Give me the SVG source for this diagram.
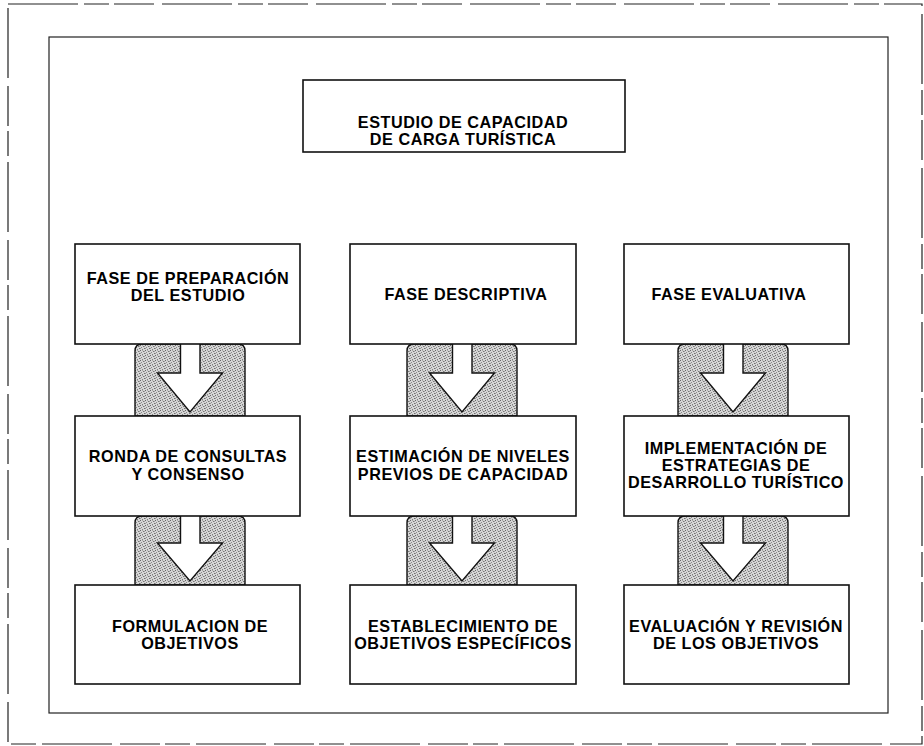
<svg xmlns="http://www.w3.org/2000/svg" width="924" height="746" viewBox="0 0 924 746">
<defs>
<pattern id="dots" width="5" height="5" patternUnits="userSpaceOnUse">
<rect width="5" height="5" fill="#d6d6d6"/>
<rect x="0" y="0" width="1" height="1" fill="#666"/>
<rect x="3" y="1" width="1" height="1" fill="#777"/>
<rect x="1" y="2" width="1" height="1" fill="#888"/>
<rect x="4" y="3" width="1" height="1" fill="#6e6e6e"/>
<rect x="2" y="4" width="1" height="1" fill="#808080"/>
<rect x="2" y="0" width="1" height="1" fill="#aaa"/>
<rect x="4" y="1" width="1" height="1" fill="#a0a0a0"/>
<rect x="0" y="3" width="1" height="1" fill="#999"/>
</pattern>
<style>
.frame{fill:none;stroke:#222;stroke-width:1.2}
.outer{stroke-dasharray:70 6 25 5 40 8}
.box{fill:#fff;stroke:#111;stroke-width:1.6}
.band{fill:url(#dots);stroke:#111;stroke-width:1.4}
.arrow{fill:#fff;stroke:#111;stroke-width:1.4;stroke-linejoin:miter}
.t{font-family:"Liberation Sans",Arial,Helvetica,sans-serif;font-weight:bold;font-size:16.2px;letter-spacing:0.55px;fill:#000;text-anchor:middle}
</style>
</defs>
<rect width="924" height="746" fill="#fff"/>
<g id="frames">
<rect class="frame outer" x="8" y="4" width="914" height="740"/>
<rect class="frame" x="49" y="37" width="839" height="676"/>
</g>
<g id="connectors">
<path class="band" d="M135,416 V351 Q135,344 142,344 H238 Q245,344 245,351 V416 Z"/>
<path class="arrow" d="M180.5,344 V373 H157.5 L190,412 L222.5,373 H200 V344"/>
<path class="band" d="M135,585 V523 Q135,516 142,516 H238 Q245,516 245,523 V585 Z"/>
<path class="arrow" d="M180.5,516 V543 H157.5 L190,581 L222.5,543 H200 V516"/>
<path class="band" d="M407,416 V351 Q407,344 414,344 H510 Q517,344 517,351 V416 Z"/>
<path class="arrow" d="M452.5,344 V373 H429.5 L462,412 L494.5,373 H472 V344"/>
<path class="band" d="M407,585 V523 Q407,516 414,516 H510 Q517,516 517,523 V585 Z"/>
<path class="arrow" d="M452.5,516 V543 H429.5 L462,581 L494.5,543 H472 V516"/>
<path class="band" d="M678,416 V351 Q678,344 685,344 H781 Q788,344 788,351 V416 Z"/>
<path class="arrow" d="M723.5,344 V373 H700.5 L733,412 L765.5,373 H743 V344"/>
<path class="band" d="M678,585 V523 Q678,516 685,516 H781 Q788,516 788,523 V585 Z"/>
<path class="arrow" d="M723.5,516 V543 H700.5 L733,581 L765.5,543 H743 V516"/>
</g>
<g id="n-top">
<rect class="box" x="303" y="80" width="322" height="72"/>
<text class="t" x="463" y="128">ESTUDIO DE CAPACIDAD</text>
<text class="t" x="463" y="145">DE CARGA TURÍSTICA</text>
</g>
<g id="n-prep">
<rect class="box" x="75" y="244" width="225" height="100"/>
<text class="t" x="188" y="284">FASE DE PREPARACIÓN</text>
<text class="t" x="188" y="301">DEL ESTUDIO</text>
</g>
<g id="n-desc">
<rect class="box" x="350" y="244" width="226" height="100"/>
<text class="t" x="466" y="300">FASE DESCRIPTIVA</text>
</g>
<g id="n-eval">
<rect class="box" x="624" y="244" width="225" height="100"/>
<text class="t" x="729" y="300">FASE EVALUATIVA</text>
</g>
<g id="n-ronda">
<rect class="box" x="75" y="416" width="225" height="100"/>
<text class="t" x="188" y="462">RONDA DE CONSULTAS</text>
<text class="t" x="188" y="480">Y CONSENSO</text>
</g>
<g id="n-estim">
<rect class="box" x="350" y="416" width="226" height="100"/>
<text class="t" x="463" y="462">ESTIMACIÓN DE NIVELES</text>
<text class="t" x="463" y="480">PREVIOS DE CAPACIDAD</text>
</g>
<g id="n-impl">
<rect class="box" x="624" y="416" width="225" height="100"/>
<text class="t" x="736" y="454">IMPLEMENTACIÓN DE</text>
<text class="t" x="736" y="471">ESTRATEGIAS DE</text>
<text class="t" x="736" y="488">DESARROLLO TURÍSTICO</text>
</g>
<g id="n-form">
<rect class="box" x="75" y="585" width="225" height="99"/>
<text class="t" x="190" y="632">FORMULACION DE</text>
<text class="t" x="190" y="649">OBJETIVOS</text>
</g>
<g id="n-estab">
<rect class="box" x="350" y="585" width="226" height="99"/>
<text class="t" x="463" y="632">ESTABLECIMIENTO DE</text>
<text class="t" x="463" y="649">OBJETIVOS ESPECÍFICOS</text>
</g>
<g id="n-evalrev">
<rect class="box" x="624" y="585" width="225" height="99"/>
<text class="t" x="736" y="632">EVALUACIÓN Y REVISIÓN</text>
<text class="t" x="736" y="649">DE LOS OBJETIVOS</text>
</g>
</svg>
